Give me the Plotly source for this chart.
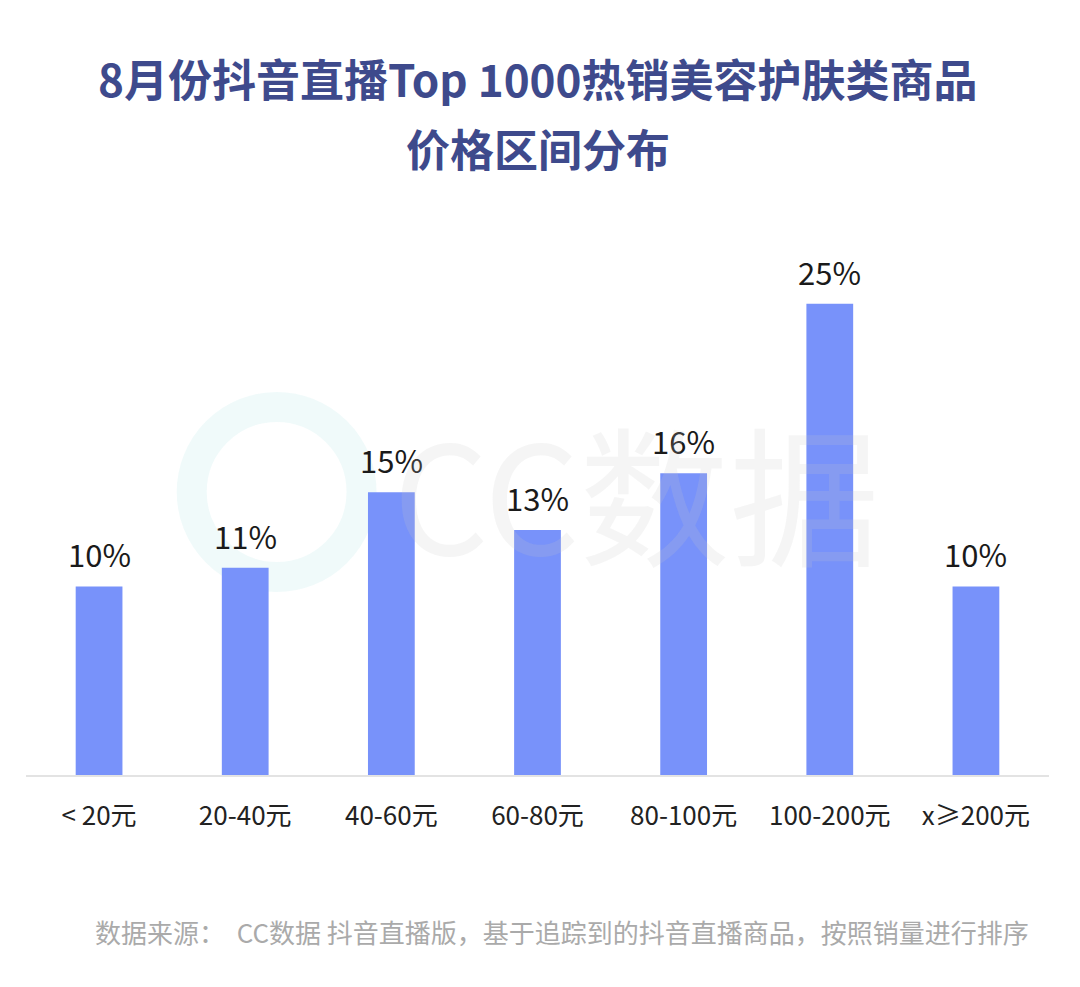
import plotly.graph_objects as go

categories = ['< 20元', '20-40元', '40-60元', '60-80元', '80-100元', '100-200元', 'x≥200元']
shares = [10, 11, 15, 13, 16, 25, 10]
labels = [f'{v}%' for v in shares]

FONT = 'Noto Sans CJK SC, Microsoft YaHei, sans-serif'

fig = go.Figure()

fig.add_trace(go.Bar(
    x=categories, y=shares,
    marker=dict(color='#7892FA', line=dict(width=0)),
    width=0.32,
    hoverinfo='skip'
))

# value labels above bars
for c, v, t in zip(categories, shares, labels):
    fig.add_annotation(x=c, y=v, text=t, showarrow=False, yanchor='bottom', yshift=8,
                       font=dict(size=31, color='#1a1a1a', family=FONT))

# faint watermark
fig.add_annotation(
    text='CC数据', xref='paper', yref='paper', x=0.597, y=0.56,
    showarrow=False, font=dict(size=150, color='rgba(200,200,200,0.18)', family=FONT)
)
fig.add_shape(type='circle', xref='paper', yref='paper', x0=0.162, x1=0.328, y0=0.389, y1=0.723,
              line=dict(color='rgba(170,230,230,0.18)', width=30), layer='below')

# two-line title
fig.add_annotation(text='<b>8月份抖音直播Top 1000热销美容护肤类商品</b>', xref='paper', yref='paper',
                   x=0.5, y=1.369, yanchor='middle', showarrow=False,
                   font=dict(size=44, color='#3E4A8C', family=FONT))
fig.add_annotation(text='<b>价格区间分布</b>', xref='paper', yref='paper',
                   x=0.5, y=1.232, yanchor='middle', showarrow=False,
                   font=dict(size=44, color='#3E4A8C', family=FONT))

# source note
fig.add_annotation(
    text='数据来源：  CC数据 抖音直播版，基于追踪到的抖音直播商品，按照销量进行排序',
    xref='paper', yref='paper', x=0.982, xanchor='right', y=-0.308, yanchor='middle',
    showarrow=False, font=dict(size=26, color='#aaaaaa', family=FONT)
)

fig.update_layout(
    width=1064, height=971,
    plot_bgcolor='white', paper_bgcolor='white',
    margin=dict(l=18, r=23, t=258, b=204),
    showlegend=False,
    xaxis=dict(
        showgrid=False, showline=True, linecolor='#e3e3e3', linewidth=2,
        ticks='', tickfont=dict(size=26, color='#222222', family=FONT),
        ticklabelstandoff=17
    ),
    yaxis=dict(visible=False, range=[0, 27]),
)

fig.write_html('out.html')
